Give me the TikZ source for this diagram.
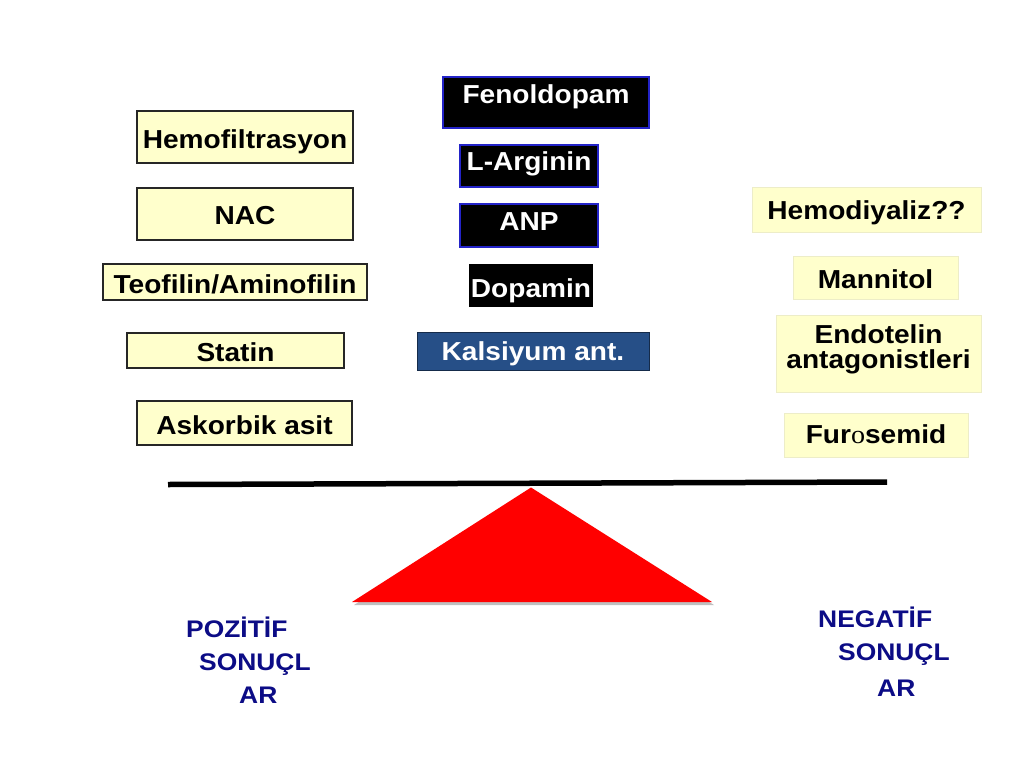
\documentclass[tikz,border=0pt]{standalone}
\usepackage{fontspec}
\setmainfont{Liberation Sans}[FakeStretch=1.08]
\newfontfamily\resultfont{Liberation Sans}[FakeStretch=1.1]
\newfontfamily\serifo{Liberation Serif}[FakeStretch=1.08]
\definecolor{paleyellow}{HTML}{FFFFCC}
\definecolor{edgeyellow}{HTML}{EDEDC8}
\definecolor{boxblue}{HTML}{2323C8}
\definecolor{kalsblue}{HTML}{264F87}
\definecolor{resultblue}{HTML}{0C0C86}
\begin{document}
\begin{tikzpicture}[x=1pt,y=-1pt]
\tikzstyle{every node}=[font=\fontsize{26}{25}\selectfont\bfseries, inner sep=0pt, text depth=5pt]
\tikzstyle{leftbox}=[draw=black!85, fill=paleyellow, line width=1.1pt]
\tikzstyle{rightbox}=[draw=edgeyellow, fill=paleyellow, line width=0.8pt]
\tikzstyle{darkbox}=[fill=black, draw=boxblue, line width=1.5pt, text=white]
\tikzstyle{result}=[anchor=base west, text=resultblue, text depth=0pt, font=\resultfont\fontsize{24}{25}\selectfont\bfseries]

% white canvas, same size as the slide
\fill[white] (0,0) rectangle (1024,768);
\useasboundingbox (0,0) rectangle (1024,768);

% left column
\node[leftbox, minimum width=216, minimum height=52, text height=27] (hemofil) at (245,137) {Hemofiltrasyon};
\node[leftbox, minimum width=216, minimum height=52, text height=25] (nac) at (245,214) {NAC};
\node[leftbox, minimum width=264, minimum height=36, text height=27] (teofilin) at (235,282) {Teofilin/Aminofilin};
\node[leftbox, minimum width=217, minimum height=35, text height=26] (statin) at (235.5,350.5) {Statin};
\node[leftbox, minimum width=215, minimum height=44, text height=27] (askorbik) at (244.5,423) {Askorbik asit};

% middle column
\node[darkbox, minimum width=206, minimum height=51, text height=6] (fenol) at (546,102.5) {Fenoldopam};
\node[darkbox, minimum width=138, minimum height=42, text height=13] (arginin) at (529,166) {L-Arginin};
\node[darkbox, minimum width=138, minimum height=43, text height=14] (anp) at (529,225.5) {ANP};
\node[darkbox, draw=none, minimum width=124, minimum height=43, text height=28] (dopamin) at (531,285.5) {Dopamin};
\node[darkbox, fill=kalsblue, draw=kalsblue!55!black, line width=1pt, minimum width=232, minimum height=38, text height=23] (kalsiyum) at (533,351) {Kalsiyum ant.};

% right column
\node[rightbox, minimum width=229, minimum height=45, text height=24] (hemodiy) at (866.5,209.5) {Hemodiyaliz??};
\node[rightbox, minimum width=165, minimum height=43, text height=26] (mannitol) at (875.5,277.5) {Mannitol};
\node[rightbox, align=center, minimum width=205, minimum height=77, text height=34, text depth=5] (endotelin) at (878.5,353.5) {Endotelin\\antagonistleri};
\node[rightbox, minimum width=184, minimum height=44, text height=21] (furosemid) at (876,435) {Fur{\serifo\mdseries o}semid};

% balance beam
\coordinate (beamL) at (168,484.5);
\coordinate (beamR) at (887,482);
\draw[line width=5.5pt] (beamL) -- (beamR);

% fulcrum with its shadow
\coordinate (apex) at (531,487.5);
\coordinate (baseL) at (352,602);
\coordinate (baseR) at (712,602);
\fill[black!50, opacity=0.5] ([shift={(2,3)}]apex) -- ([shift={(2,3)}]baseL) -- ([shift={(2,3)}]baseR) -- cycle;
\fill[red] (apex) -- (baseL) -- (baseR) -- cycle;

% outcomes
\node[result] (pozitif) at (186,637) {POZİTİF};
\node[result] (sonuc1) at (199,670) {SONUÇL};
\node[result] (ar1) at (239,703) {AR};
\node[result] (negatif) at (818,627) {NEGATİF};
\node[result] (sonuc2) at (838,660) {SONUÇL};
\node[result] (ar2) at (877,696) {AR};

\end{tikzpicture}
\end{document}
